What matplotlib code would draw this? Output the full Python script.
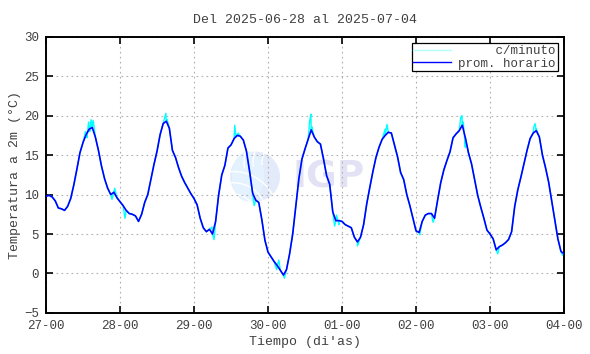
import numpy as np
import matplotlib
matplotlib.use("Agg")
import matplotlib.pyplot as plt
from matplotlib.patches import Ellipse, Arc

# promedios horarios, uno por dia (27-jun ... 03-jul), 24 valores cada uno
dia_27 = [9.8, 9.9, 9.7, 9.2, 8.3, 8.2, 8.0, 8.5, 9.5, 11.2, 13.2, 15.3, 16.6, 17.6, 18.3, 18.5, 17.3, 15.6, 13.6, 12.0, 10.8, 10.0, 10.3, 9.6]
dia_28 = [9.1, 8.6, 8.0, 7.6, 7.5, 7.3, 6.6, 7.5, 9.0, 10.0, 11.9, 13.8, 15.5, 17.6, 19.0, 19.3, 18.4, 15.6, 14.7, 13.4, 12.3, 11.5, 10.8, 10.1]
dia_29 = [9.5, 8.7, 7.0, 5.8, 5.3, 5.6, 5.0, 6.6, 10.0, 12.5, 13.7, 15.9, 16.3, 17.1, 17.5, 17.4, 16.9, 15.5, 13.0, 10.2, 9.3, 9.0, 6.8, 4.2]
dia_30 = [2.7, 2.1, 1.5, 1.0, 0.4, -0.2, 0.5, 2.5, 5.0, 8.5, 12.0, 14.5, 15.8, 17.0, 18.2, 17.3, 16.7, 16.4, 14.5, 12.4, 11.3, 7.8, 6.7, 6.7]
dia_01 = [6.6, 6.2, 6.0, 5.8, 4.6, 4.0, 4.6, 6.2, 8.8, 10.9, 12.9, 14.7, 16.0, 17.0, 17.5, 17.9, 17.8, 16.3, 14.8, 12.8, 11.9, 10.0, 8.6, 7.0]
dia_02 = [5.4, 5.2, 6.6, 7.4, 7.6, 7.6, 7.0, 9.3, 11.5, 13.1, 14.3, 15.4, 17.2, 17.7, 18.1, 18.8, 17.2, 15.3, 13.9, 11.9, 9.9, 8.4, 7.0, 5.5]
dia_03 = [5.0, 4.4, 3.0, 3.4, 3.6, 3.9, 4.3, 5.3, 8.5, 10.6, 12.2, 13.9, 15.6, 17.1, 17.8, 18.1, 17.3, 15.0, 13.4, 11.6, 9.2, 6.8, 4.4, 2.8]
ultimo = 2.5  # 04-00

# picos/bajadas de la serie por minuto que sobresalen (hora desde 27-00, valor)
pico_h = [12.8, 13.3, 13.8, 14.2, 14.6, 15.0, 15.3, 21.4, 22.3, 25.6, 38.5, 38.9, 39.3,
          53.8, 54.5, 61.2, 61.6, 62.3, 67.5, 73.5, 74.8, 75.5, 77.3, 85.5, 85.9, 86.2,
          93.6, 94.2, 95.0, 101.0, 110.0, 110.6, 111.0, 121.2, 125.5, 134.5, 134.9,
          135.3, 136.0, 146.5, 158.2, 158.6, 159.0, 167.5]
pico_v = [18.0, 17.2, 19.2, 18.0, 19.5, 18.6, 19.4, 9.4, 10.8, 7.0, 19.8, 20.3, 19.5,
          5.9, 4.3, 18.8, 17.3, 17.8, 8.6, 1.8, 0.5, 1.7, -0.6, 19.3, 20.2, 18.6,
          6.0, 7.4, 6.2, 3.5, 18.3, 18.9, 17.9, 4.9, 6.5, 19.8, 20.0,
          19.2, 16.0, 2.5, 18.6, 19.0, 18.3, 2.3]

tick_lab = ['27-00', '28-00', '29-00', '30-00', '01-00', '02-00', '03-00', '04-00']

horario = np.array(dia_27 + dia_28 + dia_29 + dia_30 + dia_01 + dia_02 + dia_03 + [ultimo])
t_hor = np.arange(len(horario)) / 24.0

# serie c/minuto: horario + excursiones leidas
t_min = np.concatenate([t_hor, np.array(pico_h) / 24.0])
v_min = np.concatenate([horario, pico_v])
orden = np.argsort(t_min)
t_min, v_min = t_min[orden], v_min[orden]

mono = 'Liberation Mono'
txt = '#404040'

fig = plt.figure(figsize=(5.9, 3.54), dpi=100)
ax = fig.add_axes([0.078, 0.116, 0.878, 0.78])

# marca de agua IGP (ejes de 518x276 px, circulo de radio ~25 px)
rx, ry = 25 / 518, 25 / 276
ax.add_patch(Ellipse((0.4035, 0.494), 2 * rx, 2 * ry, transform=ax.transAxes,
                     facecolor='#e3eafa', edgecolor='none', zorder=0))
ax.add_patch(Ellipse((0.39, 0.494), 1.3 * rx, 2 * ry, transform=ax.transAxes,
                     facecolor='#e4f2ff', edgecolor='none', zorder=0))
for k in [0.9, 1.35, 1.8]:
    ax.add_patch(Arc((0.3035 + rx * 1.2, 0.494 - ry * 1.6), 2 * rx * k, 2 * ry * k,
                     theta1=20, theta2=110, transform=ax.transAxes,
                     edgecolor='white', lw=1.0, zorder=0))
    ax.add_patch(Arc((0.4035 + rx * 1.0, 0.494 + ry * 0.6), 2 * rx * k * 0.8, 2 * ry * k * 0.8,
                     theta1=100, theta2=200, transform=ax.transAxes,
                     edgecolor='white', lw=1.0, zorder=0))
ax.text(0.545, 0.49, 'IGP', transform=ax.transAxes, fontsize=27, fontweight='bold',
        color='#e2e2f4', ha='center', va='center', family='DejaVu Sans', zorder=0)

ax.plot(t_min, v_min, color='#00ffff', lw=1.0, label='     c/minuto', zorder=2)
ax.plot(t_hor, horario, color='#0000ff', lw=1.2, label='prom. horario', zorder=3)

ax.set_xlim(0, 7)
ax.set_ylim(-5, 30)
ax.set_xticks(range(8))
ax.set_xticklabels(tick_lab)
ax.set_yticks(range(-5, 31, 5))
ax.grid(True, color='#b0b0b0', linestyle=(0, (1.5, 3)), lw=0.8)
ax.tick_params(direction='in', length=5, width=1.2, top=True, right=True,
               labelsize=9, labelcolor=txt, pad=5)
for lab in ax.get_xticklabels() + ax.get_yticklabels():
    lab.set_family(mono)
for s in ax.spines.values():
    s.set_linewidth(1.4)

ax.set_title('Del 2025-06-28 al 2025-07-04', family=mono, fontsize=9.5, color=txt, pad=10)
ax.set_xlabel("Tiempo (di'as)", family=mono, fontsize=9.5, color=txt, labelpad=3)
ax.set_ylabel('Temperatura a 2m (°C)', family=mono, fontsize=9.5, color=txt, labelpad=2)

leg = ax.legend(loc='upper right', prop={'family': mono, 'size': 9}, fancybox=False,
                framealpha=1, edgecolor='black', borderpad=0.15, labelspacing=0.05,
                handlelength=3.0, handletextpad=0.6, borderaxespad=0.5)
leg.get_frame().set_linewidth(0.9)
for t in leg.get_texts():
    t.set_color(txt)
for h in leg.get_lines():
    h.set_linewidth(1.0)
leg.get_lines()[0].set_color('#b0ffff')

fig.savefig('out.png', dpi=100)
